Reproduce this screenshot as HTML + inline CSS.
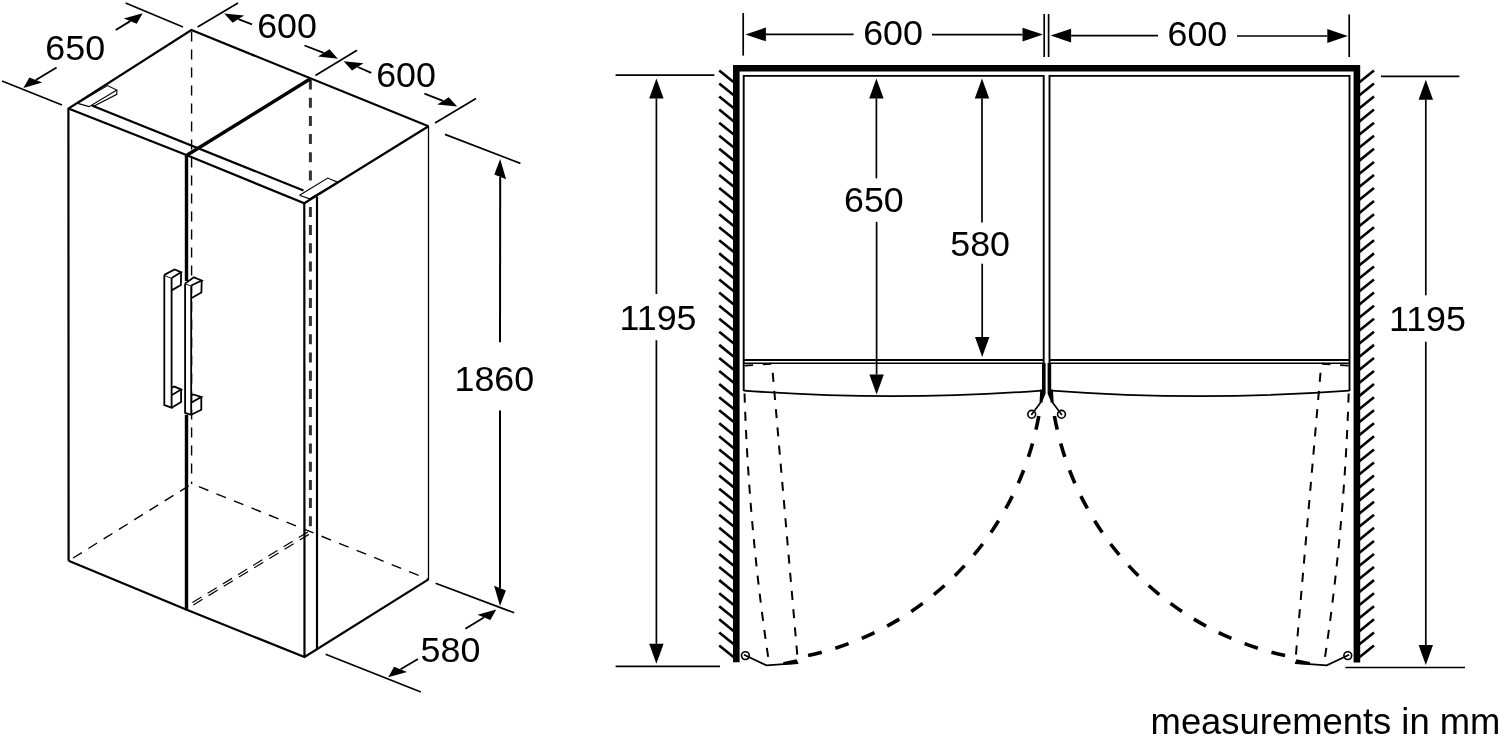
<!DOCTYPE html>
<html><head><meta charset="utf-8"><title>measurements in mm</title>
<style>
html,body{margin:0;padding:0;background:#fff;}
body{width:1500px;height:741px;overflow:hidden;}
svg{display:block;will-change:transform;}
text{font-family:"Liberation Sans",Arial,Helvetica,sans-serif;fill:#000;}
</style></head><body>
<svg width="1500" height="741" viewBox="0 0 1500 741">
<rect width="1500" height="741" fill="#fff"/>
<line x1="191.60" y1="31.50" x2="191.60" y2="483.90" stroke="#000" stroke-width="1.4" stroke-dasharray="10 8" stroke-linecap="butt"/>
<line x1="73.10" y1="558.00" x2="191.90" y2="483.90" stroke="#000" stroke-width="1.4" stroke-dasharray="10.3 7.7" stroke-linecap="butt"/>
<line x1="198.90" y1="486.70" x2="428.50" y2="579.40" stroke="#000" stroke-width="1.4" stroke-dasharray="10.2 8.7" stroke-linecap="butt"/>
<line x1="310.40" y1="79.50" x2="310.40" y2="531.00" stroke="#333" stroke-width="3" stroke-dasharray="10 8.2" stroke-linecap="butt"/>
<line x1="192.40" y1="602.50" x2="309.80" y2="530.80" stroke="#000" stroke-width="1.2" stroke-dasharray="10.7 7.1" stroke-linecap="butt"/>
<line x1="193.40" y1="604.90" x2="310.80" y2="533.20" stroke="#000" stroke-width="1.2" stroke-dasharray="10.7 7.1" stroke-linecap="butt"/>
<polyline points="77.70,103.40 107.40,85.60 116.80,90.00 89.10,106.60 77.70,103.40" fill="#fff" stroke="#000" stroke-width="1.1" stroke-linejoin="miter"/>
<polyline points="116.80,90.00 116.80,94.30 93.20,106.60" fill="none" stroke="#000" stroke-width="1.1" stroke-linejoin="miter"/>
<polyline points="299.50,195.20 327.80,178.00 337.50,182.20 309.60,198.80 299.50,195.20" fill="#fff" stroke="#000" stroke-width="1.1" stroke-linejoin="miter"/>
<polyline points="68.60,560.80 68.40,108.50 191.40,30.00 428.50,126.30" fill="none" stroke="#000" stroke-width="2.2" stroke-linejoin="miter"/>
<polyline points="68.40,108.50 186.40,155.00 304.30,203.30 428.50,126.30" fill="none" stroke="#000" stroke-width="2.2" stroke-linejoin="miter"/>
<line x1="304.30" y1="203.30" x2="304.50" y2="657.00" stroke="#000" stroke-width="2.2" stroke-linecap="butt"/>
<polyline points="68.60,560.80 186.70,609.80 304.50,657.00 428.50,579.40" fill="none" stroke="#000" stroke-width="2.2" stroke-linejoin="miter"/>
<line x1="428.50" y1="126.30" x2="428.50" y2="579.40" stroke="#000" stroke-width="1.3" stroke-linecap="butt"/>
<line x1="91.80" y1="105.60" x2="303.50" y2="190.50" stroke="#000" stroke-width="2.2" stroke-linecap="butt"/>
<line x1="317.00" y1="196.60" x2="317.00" y2="649.20" stroke="#000" stroke-width="2.2" stroke-linecap="butt"/>
<line x1="186.40" y1="155.50" x2="310.00" y2="79.00" stroke="#000" stroke-width="3.4" stroke-linecap="butt"/>
<line x1="186.50" y1="154.00" x2="186.50" y2="281.00" stroke="#000" stroke-width="3.4" stroke-linecap="butt"/>
<line x1="186.50" y1="414.80" x2="186.50" y2="610.30" stroke="#000" stroke-width="3.4" stroke-linecap="butt"/>
<polyline points="164.30,274.90 164.30,405.00 171.60,407.70 171.60,278.00 164.30,274.90" fill="#fff" stroke="#000" stroke-width="1.8" stroke-linejoin="miter"/>
<polyline points="164.30,274.90 174.60,269.50 181.10,272.20 171.60,278.00" fill="#fff" stroke="#000" stroke-width="1.8" stroke-linejoin="miter"/>
<polyline points="181.10,272.20 180.90,285.00 171.60,290.40" fill="none" stroke="#000" stroke-width="1.8" stroke-linejoin="miter"/>
<polyline points="171.60,387.80 174.30,386.60 181.10,389.50 171.60,395.30" fill="none" stroke="#000" stroke-width="1.8" stroke-linejoin="miter"/>
<polyline points="181.10,389.50 181.10,402.00 171.60,407.70" fill="none" stroke="#000" stroke-width="1.8" stroke-linejoin="miter"/>
<polyline points="185.10,283.40 185.10,412.80 191.20,414.80 191.20,285.50 185.10,283.40" fill="#fff" stroke="#000" stroke-width="1.8" stroke-linejoin="miter"/>
<polyline points="185.10,283.40 193.90,277.30 201.70,280.50 191.20,285.50" fill="#fff" stroke="#000" stroke-width="1.8" stroke-linejoin="miter"/>
<polyline points="201.70,280.50 201.40,292.50 191.20,298.20" fill="none" stroke="#000" stroke-width="1.8" stroke-linejoin="miter"/>
<polyline points="191.20,395.50 193.20,394.40 201.30,396.90 191.20,402.70" fill="none" stroke="#000" stroke-width="1.8" stroke-linejoin="miter"/>
<polyline points="201.30,396.90 201.30,409.80 191.20,414.80" fill="none" stroke="#000" stroke-width="1.8" stroke-linejoin="miter"/>
<line x1="125.60" y1="3.00" x2="183.00" y2="27.00" stroke="#000" stroke-width="1.7" stroke-linecap="butt"/>
<line x1="2.00" y1="81.00" x2="62.00" y2="105.00" stroke="#000" stroke-width="1.7" stroke-linecap="butt"/>
<line x1="197.60" y1="27.00" x2="238.00" y2="3.00" stroke="#000" stroke-width="1.7" stroke-linecap="butt"/>
<line x1="315.40" y1="75.40" x2="357.00" y2="50.20" stroke="#000" stroke-width="1.7" stroke-linecap="butt"/>
<line x1="435.00" y1="123.00" x2="476.00" y2="98.60" stroke="#000" stroke-width="1.7" stroke-linecap="butt"/>
<line x1="445.00" y1="134.40" x2="520.40" y2="163.40" stroke="#000" stroke-width="1.7" stroke-linecap="butt"/>
<line x1="435.60" y1="583.20" x2="514.20" y2="612.80" stroke="#000" stroke-width="1.7" stroke-linecap="butt"/>
<line x1="325.60" y1="654.30" x2="420.90" y2="692.00" stroke="#000" stroke-width="1.7" stroke-linecap="butt"/>
<polygon points="142.70,13.20 136.75,23.72 123.87,18.49" fill="#000"/>
<line x1="115.70" y1="30.00" x2="130.31" y2="21.11" stroke="#000" stroke-width="1.8" stroke-linecap="butt"/>
<polygon points="23.40,87.90 42.23,82.61 29.35,77.38" fill="#000"/>
<line x1="56.60" y1="67.40" x2="35.79" y2="79.99" stroke="#000" stroke-width="1.8" stroke-linecap="butt"/>
<polygon points="224.20,13.40 244.11,15.50 232.64,22.82" fill="#000"/>
<line x1="252.00" y1="24.40" x2="238.38" y2="19.16" stroke="#000" stroke-width="1.8" stroke-linecap="butt"/>
<polygon points="337.90,58.70 329.46,49.28 317.99,56.60" fill="#000"/>
<line x1="304.50" y1="45.50" x2="323.72" y2="52.94" stroke="#000" stroke-width="1.8" stroke-linecap="butt"/>
<polygon points="343.60,61.20 363.51,63.30 352.04,70.62" fill="#000"/>
<line x1="371.30" y1="72.80" x2="357.78" y2="66.96" stroke="#000" stroke-width="1.8" stroke-linecap="butt"/>
<polygon points="457.20,106.60 448.76,97.18 437.29,104.50" fill="#000"/>
<line x1="424.40" y1="93.60" x2="443.02" y2="100.84" stroke="#000" stroke-width="1.8" stroke-linecap="butt"/>
<polygon points="496.30,609.50 490.35,620.02 477.47,614.79" fill="#000"/>
<line x1="465.40" y1="628.80" x2="483.91" y2="617.41" stroke="#000" stroke-width="1.8" stroke-linecap="butt"/>
<polygon points="388.20,677.20 407.03,671.91 394.15,666.68" fill="#000"/>
<line x1="418.00" y1="659.00" x2="400.59" y2="669.29" stroke="#000" stroke-width="1.8" stroke-linecap="butt"/>
<polygon points="500.20,159.00 506.08,179.29 494.32,174.51" fill="#000"/>
<line x1="500.00" y1="342.30" x2="500.20" y2="176.90" stroke="#000" stroke-width="2" stroke-linecap="butt"/>
<polygon points="500.00,606.00 505.88,590.49 494.12,585.71" fill="#000"/>
<line x1="500.00" y1="410.50" x2="500.00" y2="588.10" stroke="#000" stroke-width="2" stroke-linecap="butt"/>
<polyline points="736.30,662.30 736.30,68.20 1356.90,68.20 1356.90,662.60" fill="none" stroke="#000" stroke-width="6.6" stroke-linejoin="miter"/>
<line x1="719.20" y1="70.40" x2="733.80" y2="82.20" stroke="#000" stroke-width="2.6" stroke-linecap="butt"/>
<line x1="1374.00" y1="70.40" x2="1359.40" y2="82.20" stroke="#000" stroke-width="2.6" stroke-linecap="butt"/>
<line x1="719.20" y1="83.47" x2="733.80" y2="95.27" stroke="#000" stroke-width="2.6" stroke-linecap="butt"/>
<line x1="1374.00" y1="83.47" x2="1359.40" y2="95.27" stroke="#000" stroke-width="2.6" stroke-linecap="butt"/>
<line x1="719.20" y1="96.54" x2="733.80" y2="108.34" stroke="#000" stroke-width="2.6" stroke-linecap="butt"/>
<line x1="1374.00" y1="96.54" x2="1359.40" y2="108.34" stroke="#000" stroke-width="2.6" stroke-linecap="butt"/>
<line x1="719.20" y1="109.61" x2="733.80" y2="121.41" stroke="#000" stroke-width="2.6" stroke-linecap="butt"/>
<line x1="1374.00" y1="109.61" x2="1359.40" y2="121.41" stroke="#000" stroke-width="2.6" stroke-linecap="butt"/>
<line x1="719.20" y1="122.68" x2="733.80" y2="134.48" stroke="#000" stroke-width="2.6" stroke-linecap="butt"/>
<line x1="1374.00" y1="122.68" x2="1359.40" y2="134.48" stroke="#000" stroke-width="2.6" stroke-linecap="butt"/>
<line x1="719.20" y1="135.75" x2="733.80" y2="147.55" stroke="#000" stroke-width="2.6" stroke-linecap="butt"/>
<line x1="1374.00" y1="135.75" x2="1359.40" y2="147.55" stroke="#000" stroke-width="2.6" stroke-linecap="butt"/>
<line x1="719.20" y1="148.82" x2="733.80" y2="160.62" stroke="#000" stroke-width="2.6" stroke-linecap="butt"/>
<line x1="1374.00" y1="148.82" x2="1359.40" y2="160.62" stroke="#000" stroke-width="2.6" stroke-linecap="butt"/>
<line x1="719.20" y1="161.89" x2="733.80" y2="173.69" stroke="#000" stroke-width="2.6" stroke-linecap="butt"/>
<line x1="1374.00" y1="161.89" x2="1359.40" y2="173.69" stroke="#000" stroke-width="2.6" stroke-linecap="butt"/>
<line x1="719.20" y1="174.96" x2="733.80" y2="186.76" stroke="#000" stroke-width="2.6" stroke-linecap="butt"/>
<line x1="1374.00" y1="174.96" x2="1359.40" y2="186.76" stroke="#000" stroke-width="2.6" stroke-linecap="butt"/>
<line x1="719.20" y1="188.03" x2="733.80" y2="199.83" stroke="#000" stroke-width="2.6" stroke-linecap="butt"/>
<line x1="1374.00" y1="188.03" x2="1359.40" y2="199.83" stroke="#000" stroke-width="2.6" stroke-linecap="butt"/>
<line x1="719.20" y1="201.10" x2="733.80" y2="212.90" stroke="#000" stroke-width="2.6" stroke-linecap="butt"/>
<line x1="1374.00" y1="201.10" x2="1359.40" y2="212.90" stroke="#000" stroke-width="2.6" stroke-linecap="butt"/>
<line x1="719.20" y1="214.17" x2="733.80" y2="225.97" stroke="#000" stroke-width="2.6" stroke-linecap="butt"/>
<line x1="1374.00" y1="214.17" x2="1359.40" y2="225.97" stroke="#000" stroke-width="2.6" stroke-linecap="butt"/>
<line x1="719.20" y1="227.24" x2="733.80" y2="239.04" stroke="#000" stroke-width="2.6" stroke-linecap="butt"/>
<line x1="1374.00" y1="227.24" x2="1359.40" y2="239.04" stroke="#000" stroke-width="2.6" stroke-linecap="butt"/>
<line x1="719.20" y1="240.31" x2="733.80" y2="252.11" stroke="#000" stroke-width="2.6" stroke-linecap="butt"/>
<line x1="1374.00" y1="240.31" x2="1359.40" y2="252.11" stroke="#000" stroke-width="2.6" stroke-linecap="butt"/>
<line x1="719.20" y1="253.38" x2="733.80" y2="265.18" stroke="#000" stroke-width="2.6" stroke-linecap="butt"/>
<line x1="1374.00" y1="253.38" x2="1359.40" y2="265.18" stroke="#000" stroke-width="2.6" stroke-linecap="butt"/>
<line x1="719.20" y1="266.45" x2="733.80" y2="278.25" stroke="#000" stroke-width="2.6" stroke-linecap="butt"/>
<line x1="1374.00" y1="266.45" x2="1359.40" y2="278.25" stroke="#000" stroke-width="2.6" stroke-linecap="butt"/>
<line x1="719.20" y1="279.52" x2="733.80" y2="291.32" stroke="#000" stroke-width="2.6" stroke-linecap="butt"/>
<line x1="1374.00" y1="279.52" x2="1359.40" y2="291.32" stroke="#000" stroke-width="2.6" stroke-linecap="butt"/>
<line x1="719.20" y1="292.59" x2="733.80" y2="304.39" stroke="#000" stroke-width="2.6" stroke-linecap="butt"/>
<line x1="1374.00" y1="292.59" x2="1359.40" y2="304.39" stroke="#000" stroke-width="2.6" stroke-linecap="butt"/>
<line x1="719.20" y1="305.66" x2="733.80" y2="317.46" stroke="#000" stroke-width="2.6" stroke-linecap="butt"/>
<line x1="1374.00" y1="305.66" x2="1359.40" y2="317.46" stroke="#000" stroke-width="2.6" stroke-linecap="butt"/>
<line x1="719.20" y1="318.73" x2="733.80" y2="330.53" stroke="#000" stroke-width="2.6" stroke-linecap="butt"/>
<line x1="1374.00" y1="318.73" x2="1359.40" y2="330.53" stroke="#000" stroke-width="2.6" stroke-linecap="butt"/>
<line x1="719.20" y1="331.80" x2="733.80" y2="343.60" stroke="#000" stroke-width="2.6" stroke-linecap="butt"/>
<line x1="1374.00" y1="331.80" x2="1359.40" y2="343.60" stroke="#000" stroke-width="2.6" stroke-linecap="butt"/>
<line x1="719.20" y1="344.87" x2="733.80" y2="356.67" stroke="#000" stroke-width="2.6" stroke-linecap="butt"/>
<line x1="1374.00" y1="344.87" x2="1359.40" y2="356.67" stroke="#000" stroke-width="2.6" stroke-linecap="butt"/>
<line x1="719.20" y1="357.94" x2="733.80" y2="369.74" stroke="#000" stroke-width="2.6" stroke-linecap="butt"/>
<line x1="1374.00" y1="357.94" x2="1359.40" y2="369.74" stroke="#000" stroke-width="2.6" stroke-linecap="butt"/>
<line x1="719.20" y1="371.01" x2="733.80" y2="382.81" stroke="#000" stroke-width="2.6" stroke-linecap="butt"/>
<line x1="1374.00" y1="371.01" x2="1359.40" y2="382.81" stroke="#000" stroke-width="2.6" stroke-linecap="butt"/>
<line x1="719.20" y1="384.08" x2="733.80" y2="395.88" stroke="#000" stroke-width="2.6" stroke-linecap="butt"/>
<line x1="1374.00" y1="384.08" x2="1359.40" y2="395.88" stroke="#000" stroke-width="2.6" stroke-linecap="butt"/>
<line x1="719.20" y1="397.15" x2="733.80" y2="408.95" stroke="#000" stroke-width="2.6" stroke-linecap="butt"/>
<line x1="1374.00" y1="397.15" x2="1359.40" y2="408.95" stroke="#000" stroke-width="2.6" stroke-linecap="butt"/>
<line x1="719.20" y1="410.22" x2="733.80" y2="422.02" stroke="#000" stroke-width="2.6" stroke-linecap="butt"/>
<line x1="1374.00" y1="410.22" x2="1359.40" y2="422.02" stroke="#000" stroke-width="2.6" stroke-linecap="butt"/>
<line x1="719.20" y1="423.29" x2="733.80" y2="435.09" stroke="#000" stroke-width="2.6" stroke-linecap="butt"/>
<line x1="1374.00" y1="423.29" x2="1359.40" y2="435.09" stroke="#000" stroke-width="2.6" stroke-linecap="butt"/>
<line x1="719.20" y1="436.36" x2="733.80" y2="448.16" stroke="#000" stroke-width="2.6" stroke-linecap="butt"/>
<line x1="1374.00" y1="436.36" x2="1359.40" y2="448.16" stroke="#000" stroke-width="2.6" stroke-linecap="butt"/>
<line x1="719.20" y1="449.43" x2="733.80" y2="461.23" stroke="#000" stroke-width="2.6" stroke-linecap="butt"/>
<line x1="1374.00" y1="449.43" x2="1359.40" y2="461.23" stroke="#000" stroke-width="2.6" stroke-linecap="butt"/>
<line x1="719.20" y1="462.50" x2="733.80" y2="474.30" stroke="#000" stroke-width="2.6" stroke-linecap="butt"/>
<line x1="1374.00" y1="462.50" x2="1359.40" y2="474.30" stroke="#000" stroke-width="2.6" stroke-linecap="butt"/>
<line x1="719.20" y1="475.57" x2="733.80" y2="487.37" stroke="#000" stroke-width="2.6" stroke-linecap="butt"/>
<line x1="1374.00" y1="475.57" x2="1359.40" y2="487.37" stroke="#000" stroke-width="2.6" stroke-linecap="butt"/>
<line x1="719.20" y1="488.64" x2="733.80" y2="500.44" stroke="#000" stroke-width="2.6" stroke-linecap="butt"/>
<line x1="1374.00" y1="488.64" x2="1359.40" y2="500.44" stroke="#000" stroke-width="2.6" stroke-linecap="butt"/>
<line x1="719.20" y1="501.71" x2="733.80" y2="513.51" stroke="#000" stroke-width="2.6" stroke-linecap="butt"/>
<line x1="1374.00" y1="501.71" x2="1359.40" y2="513.51" stroke="#000" stroke-width="2.6" stroke-linecap="butt"/>
<line x1="719.20" y1="514.78" x2="733.80" y2="526.58" stroke="#000" stroke-width="2.6" stroke-linecap="butt"/>
<line x1="1374.00" y1="514.78" x2="1359.40" y2="526.58" stroke="#000" stroke-width="2.6" stroke-linecap="butt"/>
<line x1="719.20" y1="527.85" x2="733.80" y2="539.65" stroke="#000" stroke-width="2.6" stroke-linecap="butt"/>
<line x1="1374.00" y1="527.85" x2="1359.40" y2="539.65" stroke="#000" stroke-width="2.6" stroke-linecap="butt"/>
<line x1="719.20" y1="540.92" x2="733.80" y2="552.72" stroke="#000" stroke-width="2.6" stroke-linecap="butt"/>
<line x1="1374.00" y1="540.92" x2="1359.40" y2="552.72" stroke="#000" stroke-width="2.6" stroke-linecap="butt"/>
<line x1="719.20" y1="553.99" x2="733.80" y2="565.79" stroke="#000" stroke-width="2.6" stroke-linecap="butt"/>
<line x1="1374.00" y1="553.99" x2="1359.40" y2="565.79" stroke="#000" stroke-width="2.6" stroke-linecap="butt"/>
<line x1="719.20" y1="567.06" x2="733.80" y2="578.86" stroke="#000" stroke-width="2.6" stroke-linecap="butt"/>
<line x1="1374.00" y1="567.06" x2="1359.40" y2="578.86" stroke="#000" stroke-width="2.6" stroke-linecap="butt"/>
<line x1="719.20" y1="580.13" x2="733.80" y2="591.93" stroke="#000" stroke-width="2.6" stroke-linecap="butt"/>
<line x1="1374.00" y1="580.13" x2="1359.40" y2="591.93" stroke="#000" stroke-width="2.6" stroke-linecap="butt"/>
<line x1="719.20" y1="593.20" x2="733.80" y2="605.00" stroke="#000" stroke-width="2.6" stroke-linecap="butt"/>
<line x1="1374.00" y1="593.20" x2="1359.40" y2="605.00" stroke="#000" stroke-width="2.6" stroke-linecap="butt"/>
<line x1="719.20" y1="606.27" x2="733.80" y2="618.07" stroke="#000" stroke-width="2.6" stroke-linecap="butt"/>
<line x1="1374.00" y1="606.27" x2="1359.40" y2="618.07" stroke="#000" stroke-width="2.6" stroke-linecap="butt"/>
<line x1="719.20" y1="619.34" x2="733.80" y2="631.14" stroke="#000" stroke-width="2.6" stroke-linecap="butt"/>
<line x1="1374.00" y1="619.34" x2="1359.40" y2="631.14" stroke="#000" stroke-width="2.6" stroke-linecap="butt"/>
<line x1="719.20" y1="632.41" x2="733.80" y2="644.21" stroke="#000" stroke-width="2.6" stroke-linecap="butt"/>
<line x1="1374.00" y1="632.41" x2="1359.40" y2="644.21" stroke="#000" stroke-width="2.6" stroke-linecap="butt"/>
<line x1="719.20" y1="645.48" x2="733.80" y2="657.28" stroke="#000" stroke-width="2.6" stroke-linecap="butt"/>
<line x1="1374.00" y1="645.48" x2="1359.40" y2="657.28" stroke="#000" stroke-width="2.6" stroke-linecap="butt"/>
<polyline points="743.70,391.00 743.70,75.90 1043.70,75.90 1043.70,392.00" fill="none" stroke="#000" stroke-width="1.9" stroke-linejoin="miter"/>
<line x1="743.70" y1="360.00" x2="1043.70" y2="360.00" stroke="#000" stroke-width="1.9" stroke-linecap="butt"/>
<line x1="743.70" y1="363.20" x2="1043.70" y2="363.20" stroke="#000" stroke-width="1.5" stroke-linecap="butt"/>
<path d="M743.70,390.6 Q893.00,401.6 1041.50,390.6" fill="none" stroke="#000" stroke-width="1.8"/>
<polygon points="1042.00,363.00 1045.60,363.00 1045.60,393.50 1042.70,400.50 1042.70,402.50 1039.50,402.50 1040.30,389.60 1042.00,389.60" fill="#000"/>
<line x1="1041.00" y1="402.00" x2="1031.30" y2="415.00" stroke="#000" stroke-width="1.7" stroke-linecap="butt"/>
<circle cx="1031.70" cy="414.3" r="3.9" fill="none" stroke="#000" stroke-width="1.6"/>
<path d="M1038.77,416.04 A299.5,299.5 0 0 1 797.04,657.77" fill="none" stroke="#000" stroke-width="3.6" stroke-dasharray="14 14.2"/>
<path d="M744.50,392.5 Q748.60,525 768.20,657.3" fill="none" stroke="#000" stroke-width="2" stroke-dasharray="9.1 9.15" stroke-dashoffset="17.2"/>
<line x1="771.90" y1="363.6" x2="797.70" y2="659.6" stroke="#000" stroke-width="2" stroke-dasharray="9.1 9.15" stroke-dashoffset="9.05"/>
<line x1="744.60" y1="365.70" x2="772.00" y2="363.70" stroke="#000" stroke-width="1.8" stroke-dasharray="8.5 9.7" stroke-linecap="butt"/>
<circle cx="745.40" cy="655.6" r="3.9" fill="none" stroke="#000" stroke-width="1.6"/>
<polyline points="744.00,654.70 766.40,665.40 798.10,663.10" fill="none" stroke="#000" stroke-width="1.8" stroke-linejoin="miter"/>
<polygon points="783.30,661.90 796.60,659.20 798.60,663.80 783.00,664.80" fill="#000"/>
<polyline points="1349.50,391.00 1349.50,75.90 1049.50,75.90 1049.50,392.00" fill="none" stroke="#000" stroke-width="1.9" stroke-linejoin="miter"/>
<line x1="1349.50" y1="360.00" x2="1049.50" y2="360.00" stroke="#000" stroke-width="1.9" stroke-linecap="butt"/>
<line x1="1349.50" y1="363.20" x2="1049.50" y2="363.20" stroke="#000" stroke-width="1.5" stroke-linecap="butt"/>
<path d="M1349.50,390.6 Q1200.20,401.6 1051.70,390.6" fill="none" stroke="#000" stroke-width="1.8"/>
<polygon points="1051.20,363.00 1047.60,363.00 1047.60,393.50 1050.50,400.50 1050.50,402.50 1053.70,402.50 1052.90,389.60 1051.20,389.60" fill="#000"/>
<line x1="1052.20" y1="402.00" x2="1061.90" y2="415.00" stroke="#000" stroke-width="1.7" stroke-linecap="butt"/>
<circle cx="1061.50" cy="414.3" r="3.9" fill="none" stroke="#000" stroke-width="1.6"/>
<path d="M1054.43,416.04 A299.5,299.5 0 0 0 1296.16,657.77" fill="none" stroke="#000" stroke-width="3.6" stroke-dasharray="14 14.2"/>
<path d="M1348.70,392.5 Q1344.60,525 1325.00,657.3" fill="none" stroke="#000" stroke-width="2" stroke-dasharray="9.1 9.15" stroke-dashoffset="17.2"/>
<line x1="1321.30" y1="363.6" x2="1295.50" y2="659.6" stroke="#000" stroke-width="2" stroke-dasharray="9.1 9.15" stroke-dashoffset="9.05"/>
<line x1="1348.60" y1="365.70" x2="1321.20" y2="363.70" stroke="#000" stroke-width="1.8" stroke-dasharray="8.5 9.7" stroke-linecap="butt"/>
<circle cx="1347.80" cy="655.6" r="3.9" fill="none" stroke="#000" stroke-width="1.6"/>
<polyline points="1349.20,654.70 1326.80,665.40 1295.10,663.10" fill="none" stroke="#000" stroke-width="1.8" stroke-linejoin="miter"/>
<polygon points="1309.90,661.90 1296.60,659.20 1294.60,663.80 1310.20,664.80" fill="#000"/>
<line x1="743.20" y1="13.00" x2="743.20" y2="55.60" stroke="#000" stroke-width="1.7" stroke-linecap="butt"/>
<line x1="1044.20" y1="14.00" x2="1044.20" y2="57.00" stroke="#000" stroke-width="1.7" stroke-linecap="butt"/>
<line x1="1048.60" y1="14.00" x2="1048.60" y2="57.00" stroke="#000" stroke-width="1.7" stroke-linecap="butt"/>
<line x1="1349.20" y1="14.40" x2="1349.20" y2="57.00" stroke="#000" stroke-width="1.7" stroke-linecap="butt"/>
<polygon points="745.40,34.40 765.90,27.50 765.90,41.30" fill="#000"/>
<line x1="765.90" y1="34.40" x2="853.60" y2="34.40" stroke="#000" stroke-width="1.7" stroke-linecap="butt"/>
<polygon points="1043.00,34.60 1022.50,27.70 1022.50,41.50" fill="#000"/>
<line x1="1022.50" y1="34.60" x2="932.00" y2="34.60" stroke="#000" stroke-width="1.7" stroke-linecap="butt"/>
<polygon points="1050.60,35.60 1071.10,28.70 1071.10,42.50" fill="#000"/>
<line x1="1071.10" y1="35.60" x2="1158.00" y2="35.60" stroke="#000" stroke-width="1.7" stroke-linecap="butt"/>
<polygon points="1347.80,36.00 1327.30,29.10 1327.30,42.90" fill="#000"/>
<line x1="1327.30" y1="36.00" x2="1237.00" y2="36.00" stroke="#000" stroke-width="1.7" stroke-linecap="butt"/>
<line x1="615.60" y1="75.20" x2="714.40" y2="75.20" stroke="#000" stroke-width="1.7" stroke-linecap="butt"/>
<line x1="615.60" y1="666.40" x2="720.00" y2="666.40" stroke="#000" stroke-width="1.7" stroke-linecap="butt"/>
<polygon points="656.40,78.40 649.20,98.40 663.60,98.40" fill="#000"/>
<line x1="656.40" y1="98.40" x2="656.40" y2="294.00" stroke="#000" stroke-width="1.7" stroke-linecap="butt"/>
<polygon points="656.40,663.80 649.20,643.80 663.60,643.80" fill="#000"/>
<line x1="656.40" y1="643.80" x2="656.40" y2="340.20" stroke="#000" stroke-width="1.7" stroke-linecap="butt"/>
<line x1="1381.00" y1="76.40" x2="1459.40" y2="76.40" stroke="#000" stroke-width="1.7" stroke-linecap="butt"/>
<line x1="1345.40" y1="667.50" x2="1465.00" y2="667.50" stroke="#000" stroke-width="1.7" stroke-linecap="butt"/>
<polygon points="1425.80,79.80 1418.60,99.80 1433.00,99.80" fill="#000"/>
<line x1="1425.80" y1="99.80" x2="1425.80" y2="295.30" stroke="#000" stroke-width="1.7" stroke-linecap="butt"/>
<polygon points="1425.80,665.00 1418.60,645.00 1433.00,645.00" fill="#000"/>
<line x1="1425.80" y1="645.00" x2="1425.80" y2="341.80" stroke="#000" stroke-width="1.7" stroke-linecap="butt"/>
<polygon points="876.40,78.40 869.20,98.40 883.60,98.40" fill="#000"/>
<line x1="876.40" y1="98.40" x2="876.40" y2="178.30" stroke="#000" stroke-width="1.7" stroke-linecap="butt"/>
<polygon points="876.60,394.60 869.40,374.60 883.80,374.60" fill="#000"/>
<line x1="876.60" y1="374.60" x2="876.60" y2="221.80" stroke="#000" stroke-width="1.7" stroke-linecap="butt"/>
<polygon points="982.00,78.40 974.80,98.40 989.20,98.40" fill="#000"/>
<line x1="982.00" y1="98.40" x2="982.00" y2="222.40" stroke="#000" stroke-width="1.7" stroke-linecap="butt"/>
<polygon points="982.20,357.00 975.00,337.00 989.40,337.00" fill="#000"/>
<line x1="982.20" y1="337.00" x2="982.20" y2="263.70" stroke="#000" stroke-width="1.7" stroke-linecap="butt"/>
<text x="75.20" y="59.60" font-size="35.8" text-anchor="middle">650</text>
<text x="287.00" y="38.40" font-size="35.8" text-anchor="middle">600</text>
<text x="406.00" y="87.00" font-size="35.8" text-anchor="middle">600</text>
<text x="494.35" y="390.90" font-size="35.8" text-anchor="middle">1860</text>
<text x="450.45" y="661.60" font-size="35.8" text-anchor="middle">580</text>
<text x="893.00" y="45.00" font-size="35.8" text-anchor="middle">600</text>
<text x="1197.40" y="46.40" font-size="35.8" text-anchor="middle">600</text>
<text x="873.85" y="211.70" font-size="35.8" text-anchor="middle">650</text>
<text x="980.15" y="255.80" font-size="35.8" text-anchor="middle">580</text>
<text x="658.05" y="329.60" font-size="35.8" text-anchor="middle">1195</text>
<text x="1427.45" y="331.30" font-size="35.8" text-anchor="middle">1195</text>
<text x="1325.50" y="733.90" font-size="36.4" text-anchor="middle">measurements in mm</text>
</svg>
</body></html>
